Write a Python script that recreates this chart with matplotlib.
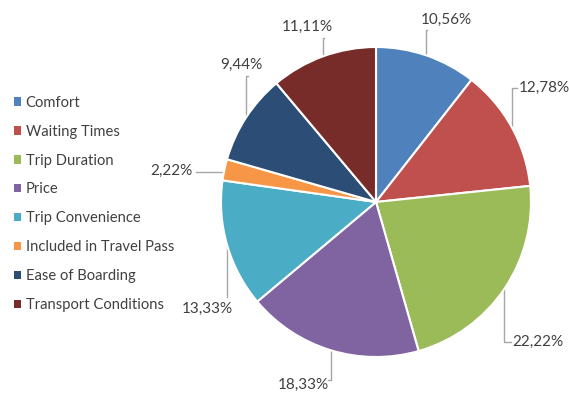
import matplotlib
matplotlib.use("Agg")
import matplotlib.pyplot as plt
import numpy as np

categories = ["Comfort", "Waiting Times", "Trip Duration", "Price",
              "Trip Convenience", "Included in Travel Pass", "Ease of Boarding",
              "Transport Conditions"]
values = [10.56, 12.78, 22.22, 18.33, 13.33, 2.22, 9.44, 11.11]
labels = ["10,56%", "12,78%", "22,22%", "18,33%", "13,33%", "2,22%", "9,44%", "11,11%"]
colors = ["#4F81BD", "#C0504D", "#9BBB59", "#8064A2", "#4BACC6", "#F79646",
          "#2C4D75", "#772C2A"]

W, H = 569, 400
CX, CY, R = 376, 202, 155  # pie centre / radius in pixels

def px(x, y):
    return (x - CX) / R, (CY - y) / R

# label layout: text position (px), text alignment, leader end (px)
label_pos = [(421, 20, 'left'), (519, 88, 'left'), (512, 342, 'left'),
             (329, 385, 'right'), (233, 309, 'right'), (193, 171, 'right'),
             (263, 65, 'right'), (333, 27, 'right')]
leader_end = [(427, 30), (517, 88), (511, 342), (328, 380), (227, 297),
              (196, 172), (248, 76), (324, 38)]

plt.rcParams['font.family'] = ['Lato', 'DejaVu Sans']
fig = plt.figure(figsize=(W / 100, H / 100), dpi=100)
ax = fig.add_axes([0, 0, 1, 1])

wedges, _ = ax.pie(values, colors=colors, startangle=90, counterclock=False,
                   radius=1, center=(0, 0), frame=True,
                   wedgeprops=dict(edgecolor='white', linewidth=1.5))
ax.set_xlim(-CX / R, (W - CX) / R)
ax.set_ylim(-(H - CY) / R, CY / R)
ax.set_aspect('equal')
ax.axis('off')

txtcol = "#404040"
for w, lab, (tx, ty, ha), (lx, ly) in zip(wedges, labels, label_pos, leader_end):
    ang = np.deg2rad((w.theta1 + w.theta2) / 2)
    ex, ey = np.cos(ang), np.sin(ang)
    lxd, lyd = px(lx, ly)
    ax.plot([ex, ex, lxd], [ey, lyd, lyd], color="#A6A6A6", lw=1, zorder=0.5)
    x, y = px(tx, ty)
    ax.text(x, y, lab, ha=ha, va='center', fontsize=11, color=txtcol)

leg = ax.legend(wedges, categories, loc='upper left',
                bbox_to_anchor=(8 / W, 1 - 90 / H), bbox_transform=fig.transFigure,
                frameon=False, fontsize=10.6, handlelength=0.5, handleheight=0.5,
                handletextpad=0.3, labelspacing=1.01, borderaxespad=0)
for t in leg.get_texts():
    t.set_color(txtcol)
for h in leg.legend_handles:
    h.set_edgecolor('none')

fig.savefig("out.png", dpi=100)
